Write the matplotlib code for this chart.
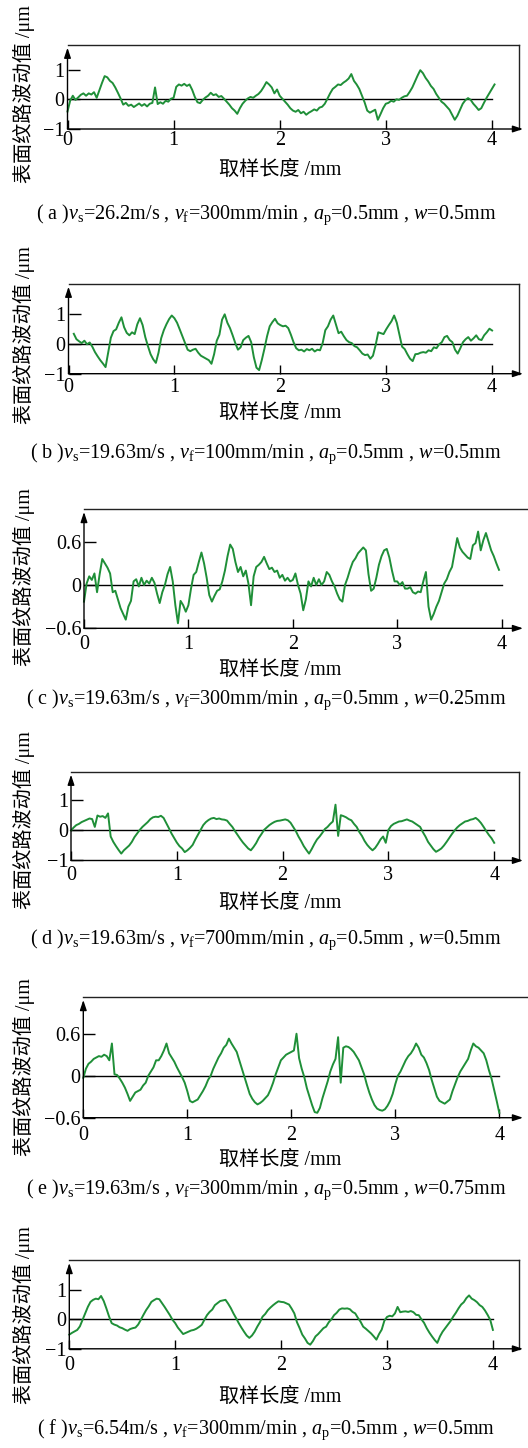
import numpy as np
import matplotlib
matplotlib.use('Agg')
import matplotlib.pyplot as plt
from matplotlib.ticker import FuncFormatter

plt.rcParams['font.family'] = ['Liberation Serif', 'Noto Sans CJK SC']
plt.rcParams['mathtext.fontset'] = 'custom'
plt.rcParams['mathtext.rm'] = 'Liberation Serif'
plt.rcParams['mathtext.it'] = 'Liberation Serif:italic'

# profile sampled every 0.025 mm along the sampling length
STEP = 0.025
X_START = [0.0, 0.05, 0.0, 0.0, 0.0, 0.0]

# (a) vs=26.2 m/s, vf=300 mm/min, w=0.5 mm
Y_A = [-0.41, -0.05, 0.12, -0.02, 0.06, 0.15, 0.20, 0.12, 0.20, 0.16,
       0.24, 0.05, 0.30, 0.55, 0.78, 0.74, 0.62, 0.55, 0.40, 0.22,
       0.03, -0.18, -0.12, -0.22, -0.18, -0.26, -0.20, -0.14, -0.22, -0.16,
       -0.24, -0.15, -0.12, 0.40, -0.16, -0.10, -0.15, -0.05, -0.08, 0.02,
       0.05, 0.42, 0.50, 0.46, 0.52, 0.45, 0.50, 0.32, 0.08, -0.10,
       -0.13, -0.02, 0.06, 0.12, 0.22, 0.14, 0.17, 0.08, 0.11, 0.02,
       -0.08, -0.18, -0.30, -0.38, -0.49, -0.30, -0.15, -0.05, 0.03, 0.08,
       0.05, 0.12, 0.18, 0.28, 0.42, 0.58, 0.50, 0.40, 0.20, 0.33,
       0.12, 0.02, -0.08, -0.18, -0.30, -0.38, -0.42, -0.36, -0.47, -0.42,
       -0.52, -0.45, -0.40, -0.34, -0.38, -0.28, -0.25, -0.15, 0.02, 0.20,
       0.35, 0.42, 0.50, 0.48, 0.56, 0.62, 0.70, 0.85, 0.62, 0.50,
       0.35, 0.12, -0.10, -0.38, -0.45, -0.40, -0.35, -0.69, -0.50, -0.30,
       -0.15, -0.12, -0.05, -0.08, 0.00, -0.02, 0.05, 0.10, 0.12, 0.25,
       0.40, 0.60, 0.80, 0.98, 0.88, 0.72, 0.60, 0.45, 0.35, 0.18,
       0.05, -0.08, -0.15, -0.25, -0.35, -0.52, -0.69, -0.55, -0.35, -0.15,
       -0.03, 0.04, -0.02, -0.15, -0.25, -0.36, -0.30, -0.12, 0.05, 0.20,
       0.35, 0.50]

# (b) vf=100 mm/min
Y_B = [0.33, 0.15, 0.08, 0.02, 0.10, -0.02, 0.04, -0.10, -0.28, -0.42,
       -0.55, -0.66, -0.78, -0.30, 0.20, 0.42, 0.48, 0.70, 0.88, 0.55,
       0.36, 0.28, 0.38, 0.32, 0.65, 0.85, 0.62, 0.22, -0.08, -0.35,
       -0.52, -0.64, -0.30, 0.18, 0.45, 0.65, 0.82, 0.94, 0.85, 0.70,
       0.48, 0.25, 0.02, -0.20, -0.25, -0.20, -0.17, -0.30, -0.40, -0.45,
       -0.50, -0.55, -0.67, -0.35, 0.10, 0.30, 0.80, 0.98, 0.70, 0.52,
       0.28, 0.02, -0.20, -0.12, 0.12, 0.20, 0.26, 0.05, -0.45, -0.80,
       -0.88, -0.55, -0.17, 0.25, 0.58, 0.72, 0.83, 0.68, 0.62, 0.58,
       0.60, 0.52, 0.30, 0.05, -0.15, -0.22, -0.20, -0.26, -0.18, -0.22,
       -0.17, -0.26, -0.20, -0.22, 0.02, 0.45, 0.58, 0.80, 0.94, 0.65,
       0.35, 0.40, 0.25, 0.12, 0.05, 0.02, -0.08, -0.12, -0.22, -0.33,
       -0.38, -0.36, -0.50, -0.40, -0.05, 0.38, 0.35, 0.32, 0.48, 0.62,
       0.75, 0.94, 0.70, 0.30, -0.10, -0.18, -0.35, -0.50, -0.58, -0.35,
       -0.34, -0.30, -0.28, -0.30, -0.22, -0.25, -0.12, -0.15, -0.02, 0.05,
       0.22, 0.26, 0.12, 0.05, -0.20, -0.33, -0.15, 0.05, 0.15, 0.22,
       0.10, 0.18, 0.28, 0.15, 0.12, 0.28, 0.38, 0.50, 0.44]

# (c) w=0.25 mm
Y_C = [-0.23, 0.02, 0.12, 0.07, 0.16, -0.10, 0.15, 0.36, 0.30, 0.24,
       0.16, -0.10, -0.08, -0.20, -0.32, -0.40, -0.48, -0.30, -0.22, 0.05,
       0.08, -0.02, 0.10, 0.00, 0.06, 0.02, 0.10, 0.03, -0.12, -0.25,
       -0.10, 0.00, 0.15, 0.25, 0.05, -0.28, -0.53, -0.22, -0.28, -0.37,
       -0.28, -0.05, 0.14, 0.18, 0.32, 0.45, 0.30, 0.10, -0.14, -0.23,
       -0.15, -0.08, -0.06, 0.05, 0.20, 0.40, 0.56, 0.50, 0.32, 0.18,
       0.25, 0.12, 0.20, 0.02, -0.28, 0.12, 0.25, 0.28, 0.32, 0.39,
       0.30, 0.22, 0.24, 0.18, 0.20, 0.10, 0.14, 0.06, 0.10, 0.05,
       0.07, 0.16, 0.00, -0.12, -0.35, -0.20, 0.05, -0.02, 0.10, 0.00,
       0.08, 0.00, 0.05, 0.18, 0.14, 0.05, -0.02, -0.12, -0.20, -0.23,
       0.00, 0.10, 0.22, 0.32, 0.37, 0.44, 0.48, 0.52, 0.48, 0.15,
       -0.08, -0.05, 0.10, 0.28, 0.40, 0.48, 0.50, 0.38, 0.20, 0.05,
       0.05, 0.00, 0.04, -0.05, -0.05, -0.03, -0.10, -0.12, -0.09, -0.10,
       0.05, 0.18, -0.30, -0.48, -0.40, -0.30, -0.22, -0.10, 0.02, 0.08,
       0.18, 0.25, 0.45, 0.65, 0.52, 0.46, 0.42, 0.38, 0.36, 0.55,
       0.58, 0.74, 0.48, 0.62, 0.72, 0.60, 0.48, 0.40, 0.30, 0.21]

# (d) vf=700 mm/min
Y_D = [0.00, 0.10, 0.18, 0.22, 0.28, 0.32, 0.36, 0.40, 0.38, 0.12,
       0.50, 0.46, 0.48, 0.42, 0.57, -0.20, -0.38, -0.52, -0.65, -0.77,
       -0.66, -0.58, -0.50, -0.38, -0.22, -0.10, 0.02, 0.12, 0.20, 0.28,
       0.38, 0.44, 0.46, 0.45, 0.49, 0.42, 0.25, 0.08, -0.10, -0.25,
       -0.40, -0.52, -0.60, -0.72, -0.66, -0.58, -0.48, -0.30, -0.14, 0.02,
       0.18, 0.28, 0.35, 0.40, 0.42, 0.38, 0.40, 0.37, 0.36, 0.33,
       0.22, 0.12, -0.02, -0.15, -0.28, -0.40, -0.50, -0.60, -0.66, -0.55,
       -0.42, -0.25, -0.12, 0.02, 0.10, 0.18, 0.24, 0.29, 0.32, 0.33,
       0.35, 0.37, 0.34, 0.26, 0.12, -0.02, -0.20, -0.35, -0.52, -0.65,
       -0.77, -0.62, -0.45, -0.30, -0.20, -0.08, 0.05, 0.12, 0.22, 0.30,
       0.86, -0.18, 0.51, 0.48, 0.44, 0.38, 0.34, 0.22, 0.12, -0.05,
       -0.18, -0.35, -0.48, -0.58, -0.66, -0.58, -0.45, -0.30, -0.20, -0.41,
       0.02, 0.15, 0.22, 0.26, 0.30, 0.31, 0.34, 0.37, 0.33, 0.30,
       0.24, 0.18, 0.12, -0.05, -0.20, -0.38, -0.50, -0.62, -0.71, -0.66,
       -0.60, -0.50, -0.38, -0.25, -0.12, 0.00, 0.10, 0.18, 0.24, 0.30,
       0.32, 0.36, 0.38, 0.42, 0.35, 0.25, 0.12, -0.02, -0.15, -0.26,
       -0.41]

# (e) w=0.75 mm
Y_E = [-0.03, 0.10, 0.17, 0.20, 0.24, 0.26, 0.28, 0.27, 0.30, 0.28,
       0.22, 0.46, 0.02, 0.01, -0.04, -0.10, -0.17, -0.26, -0.36, -0.30,
       -0.24, -0.22, -0.20, -0.14, -0.10, 0.00, 0.06, 0.12, 0.22, 0.22,
       0.28, 0.36, 0.46, 0.32, 0.26, 0.20, 0.12, 0.05, -0.02, -0.10,
       -0.22, -0.36, -0.38, -0.36, -0.34, -0.28, -0.22, -0.15, -0.06, 0.00,
       0.10, 0.18, 0.26, 0.32, 0.40, 0.44, 0.53, 0.46, 0.40, 0.34,
       0.22, 0.10, -0.02, -0.14, -0.26, -0.33, -0.38, -0.41, -0.39, -0.36,
       -0.32, -0.28, -0.20, -0.10, 0.02, 0.12, 0.22, 0.26, 0.30, 0.32,
       0.34, 0.36, 0.60, 0.25, 0.10, -0.02, -0.18, -0.30, -0.42, -0.52,
       -0.53, -0.46, -0.32, -0.20, -0.08, 0.06, 0.16, 0.24, 0.55, -0.10,
       0.40, 0.42, 0.41, 0.38, 0.34, 0.28, 0.22, 0.12, 0.02, -0.12,
       -0.24, -0.34, -0.42, -0.47, -0.49, -0.50, -0.48, -0.43, -0.36, -0.26,
       -0.12, 0.00, 0.06, 0.14, 0.22, 0.28, 0.32, 0.38, 0.46, 0.40,
       0.30, 0.26, 0.18, 0.08, -0.06, -0.18, -0.30, -0.36, -0.38, -0.40,
       -0.37, -0.34, -0.22, -0.12, -0.02, 0.06, 0.12, 0.18, 0.24, 0.36,
       0.46, 0.42, 0.40, 0.36, 0.32, 0.22, 0.08, -0.04, -0.20, -0.36,
       -0.53]

# (f) vs=6.54 m/s
Y_F = [-0.52, -0.46, -0.41, -0.36, -0.24, -0.02, 0.20, 0.42, 0.59, 0.66,
       0.70, 0.68, 0.79, 0.62, 0.37, 0.10, -0.13, -0.18, -0.21, -0.27,
       -0.30, -0.35, -0.39, -0.33, -0.30, -0.28, -0.18, -0.02, 0.15, 0.31,
       0.44, 0.59, 0.65, 0.70, 0.68, 0.55, 0.42, 0.28, 0.14, -0.02,
       -0.13, -0.28, -0.39, -0.50, -0.46, -0.42, -0.38, -0.36, -0.32, -0.26,
       -0.19, -0.02, 0.14, 0.25, 0.33, 0.48, 0.55, 0.62, 0.64, 0.66,
       0.53, 0.38, 0.20, 0.04, -0.13, -0.28, -0.42, -0.55, -0.63, -0.55,
       -0.42, -0.25, -0.10, 0.09, 0.18, 0.31, 0.40, 0.48, 0.55, 0.61,
       0.59, 0.58, 0.54, 0.50, 0.36, 0.20, -0.10, -0.30, -0.52, -0.65,
       -0.80, -0.86, -0.74, -0.58, -0.50, -0.40, -0.30, -0.25, -0.10, 0.00,
       0.14, 0.22, 0.33, 0.37, 0.36, 0.37, 0.34, 0.25, 0.20, 0.05,
       -0.08, -0.25, -0.32, -0.40, -0.48, -0.58, -0.69, -0.50, -0.35, -0.05,
       0.08, 0.12, 0.10, 0.20, 0.42, 0.24, 0.26, 0.27, 0.25, 0.28,
       0.24, 0.15, 0.14, 0.00, -0.12, -0.30, -0.45, -0.58, -0.70, -0.80,
       -0.58, -0.42, -0.30, -0.18, -0.06, 0.09, 0.22, 0.37, 0.50, 0.58,
       0.72, 0.81, 0.70, 0.65, 0.58, 0.48, 0.42, 0.30, 0.15, -0.02,
       -0.36]

PROFILES = [Y_A, Y_B, Y_C, Y_D, Y_E, Y_F]
XTICKS = [0, 1, 2, 3, 4]
YTICKS = [[-1, 0, 1], [-1, 0, 1], [-0.6, 0, 0.6],
          [-1, 0, 1], [-0.6, 0, 0.6], [-1, 0, 1]]
ZERO_SPAN = [0, 4]
XLABEL = '取样长度 /mm'
YLABEL = '表面纹路波动值 /μm'
CAPTIONS = [
    r'( a )$v_\mathrm{s}$=26.2m/s , $v_\mathrm{f}$=300mm/min , $a_\mathrm{p}$=0.5mm , $w$=0.5mm',
    r'( b )$v_\mathrm{s}$=19.63m/s , $v_\mathrm{f}$=100mm/min , $a_\mathrm{p}$=0.5mm , $w$=0.5mm',
    r'( c )$v_\mathrm{s}$=19.63m/s , $v_\mathrm{f}$=300mm/min , $a_\mathrm{p}$=0.5mm , $w$=0.25mm',
    r'( d )$v_\mathrm{s}$=19.63m/s , $v_\mathrm{f}$=700mm/min , $a_\mathrm{p}$=0.5mm , $w$=0.5mm',
    r'( e )$v_\mathrm{s}$=19.63m/s , $v_\mathrm{f}$=300mm/min , $a_\mathrm{p}$=0.5mm , $w$=0.75mm',
    r'( f )$v_\mathrm{s}$=6.54m/s , $v_\mathrm{f}$=300mm/min , $a_\mathrm{p}$=0.5mm , $w$=0.5mm',
]

W, H = 528, 1448
GREEN = '#1f8f38'
FS = 14.5

# pixel layout per panel:
# x=0 px, px per mm, y=0 px, px per unit, y of bottom axis, top border px,
# right border px, x tick pad px, y-label centre, x-label centre, caption centre
LAYOUT = [
    (67.5, 106.1, 99.3, 29.7, -1, 44.7, 519, 2, 94, 170, 215),
    (68.5, 105.9, 343.7, 30.0, -1, 283.7, 519, 4, 335, 413, 454),
    (84.0, 104.4, 585.0, 72.2, -0.6, 509.0, 545, 7, 577, 670, 700),
    (71.0, 105.8, 830.5, 30.0, -1, 771.7, 519, 6, 820, 903, 940),
    (83.3, 104.0, 1075.7, 70.0, -0.6, 997.0, 545, 8, 1067, 1160, 1190),
    (69.3, 105.9, 1319.3, 29.5, -1, 1260.0, 519, 7, 1315, 1397, 1430),
]
ARROW_TIP = 523

fmt = FuncFormatter(lambda v, _: f'{v:g}'.replace('-', '\u2212'))
arrow = dict(arrowstyle='-|>,head_length=0.6,head_width=0.2', color='k',
             lw=1.0, mutation_scale=10, shrinkA=0, shrinkB=0)

fig = plt.figure(figsize=(W / 100, H / 100), dpi=100)

for i, (x0, ppm, y0, ppu, ymin, top, right, xpad, ylc, xlc, cap) in enumerate(LAYOUT):
    bottom = y0 - ymin * ppu
    ax = fig.add_axes([x0 / W, 1 - bottom / H, (right - x0) / W, (bottom - top) / H])
    ytop = (y0 - top) / ppu
    ax.set_xlim(0, (right - x0) / ppm)
    ax.set_ylim(ymin, ytop)
    for s in ax.spines.values():
        s.set_visible(False)

    y = np.array(PROFILES[i])
    x = X_START[i] + STEP * np.arange(len(y))
    ax.plot(ZERO_SPAN, [0, 0], color='k', lw=1.0)
    ax.plot(x, y, color=GREEN, lw=1.4, clip_on=False)

    # box: top edge and right edge
    ax.plot([0, 1], [1, 1], transform=ax.transAxes, color='#222222', lw=1.0, clip_on=False)
    ax.plot([1, 1], [0, 1], transform=ax.transAxes, color='#222222', lw=1.0, clip_on=False)

    # axes with arrow heads
    ax.annotate('', xy=((ARROW_TIP - x0) / ppm, ymin), xytext=(0, ymin),
                arrowprops=arrow, annotation_clip=False)
    ax.annotate('', xy=(0, ytop - 3 / ppu), xytext=(0, ymin),
                arrowprops=arrow, annotation_clip=False)

    ax.set_xticks(XTICKS)
    ax.set_yticks(YTICKS[i])
    ax.xaxis.set_major_formatter(fmt)
    ax.yaxis.set_major_formatter(fmt)
    ax.tick_params(axis='x', direction='in', length=6.5, width=1.0,
                   pad=xpad * 0.72, labelsize=FS)
    ax.tick_params(axis='y', direction='in', length=8.5, width=1.0,
                   pad=2, labelsize=FS)

    fig.text(24 / W, 1 - ylc / H, YLABEL, rotation=90, ha='center', va='center',
             fontsize=FS)
    fig.text(280 / W, 1 - xlc / H, XLABEL, ha='center', va='center', fontsize=FS)
    fig.text(266 / W, 1 - cap / H, CAPTIONS[i], ha='center', va='center',
             fontsize=14.5)

fig.savefig('out.png', dpi=100)
